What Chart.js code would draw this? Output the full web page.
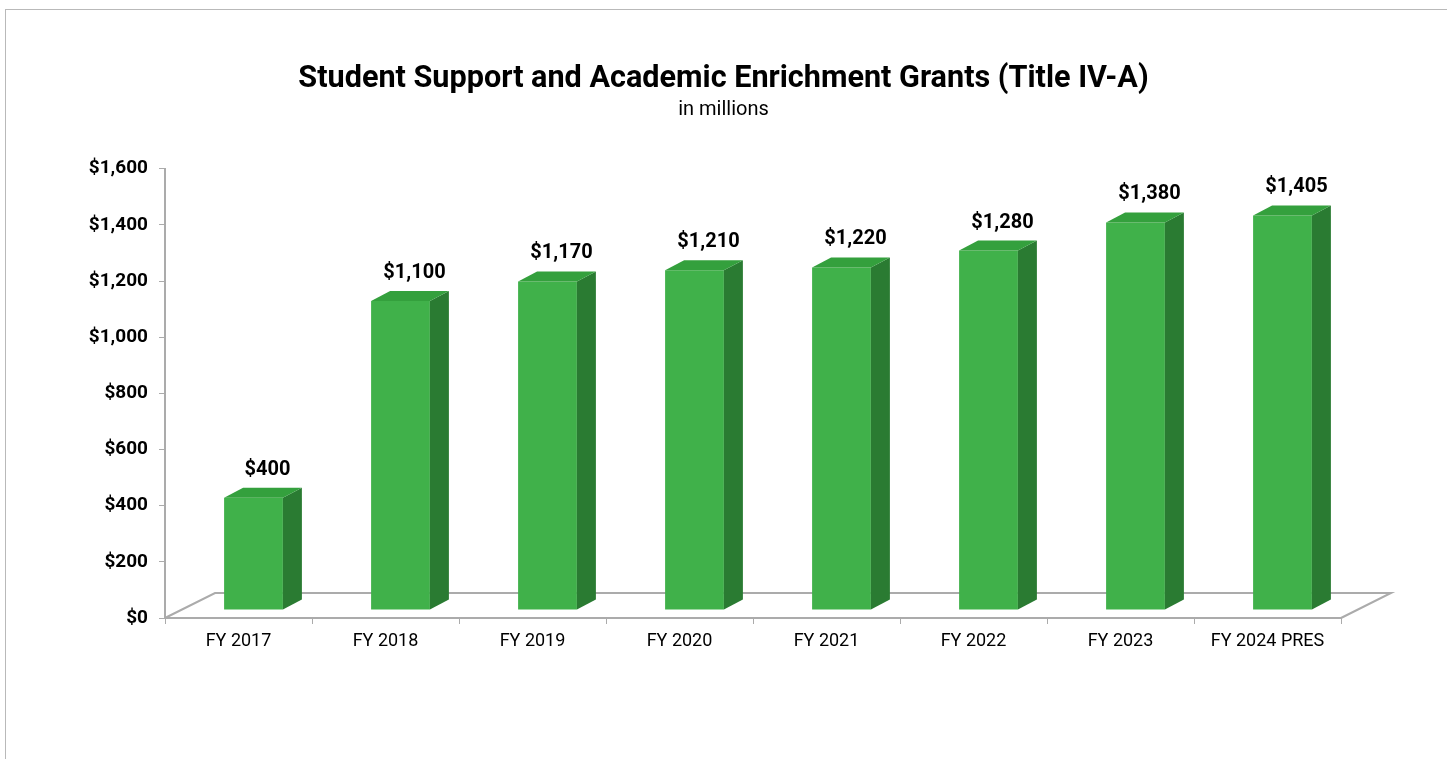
<!DOCTYPE html>
<html>
<head>
<meta charset="utf-8">
<script src="https://cdn.jsdelivr.net/npm/chart.js@4"></script>
<style>
  html, body { margin: 0; padding: 0; background: #fff; overflow: hidden; }
  #frame { position: absolute; left: 5px; top: 9px; width: 1600px; height: 900px; border: 1px solid #b9b9b9; }
  #wrap { position: absolute; left: 0; top: 0; width: 1447px; height: 759px; }
</style>
</head>
<body>
<div id="frame"></div>
<div id="wrap"><canvas id="grantsChart" width="1447" height="759"></canvas></div>
<script>
var years = ["FY 2017", "FY 2018", "FY 2019", "FY 2020", "FY 2021", "FY 2022", "FY 2023", "FY 2024 PRES"];
var funding = [400, 1100, 1170, 1210, 1220, 1280, 1380, 1405];
var yTicks = [0, 200, 400, 600, 800, 1000, 1200, 1400, 1600];

var COLORS = {
  front: "#40b14a",
  side: "#2a7b32",
  top: "#34a03d",
  axis: "#ababab"
};

// fake 3D: depth of the floor and of each bar
var FLOOR = {dx: 50, dy: -25};
var BAR_SHIFT = {dx: 15, dy: -8};
var DEPTH = {dx: 19, dy: -10};

function money(v) {
  return "$" + v.toLocaleString("en-US");
}

const threeD = {
  id: "threeD",
  beforeDatasetsDraw(chart) {
    const ctx = chart.ctx;
    const a = chart.chartArea;
    ctx.save();
    ctx.strokeStyle = COLORS.axis;
    ctx.lineWidth = 2;
    ctx.beginPath();
    ctx.moveTo(a.left, a.bottom);
    ctx.lineTo(a.left + FLOOR.dx, a.bottom + FLOOR.dy);
    ctx.lineTo(a.right + FLOOR.dx, a.bottom + FLOOR.dy);
    ctx.lineTo(a.right, a.bottom);
    ctx.stroke();
    ctx.restore();
    ctx.save();
    ctx.translate(BAR_SHIFT.dx, BAR_SHIFT.dy);
  },
  afterDatasetsDraw(chart) {
    const ctx = chart.ctx;
    const meta = chart.getDatasetMeta(0);
    meta.data.forEach(bar => {
      var l = bar.x - bar.width / 2;
      var r = bar.x + bar.width / 2;
      // side face
      ctx.fillStyle = COLORS.side;
      ctx.beginPath();
      ctx.moveTo(r, bar.y);
      ctx.lineTo(r + DEPTH.dx, bar.y + DEPTH.dy);
      ctx.lineTo(r + DEPTH.dx, bar.base + DEPTH.dy);
      ctx.lineTo(r, bar.base);
      ctx.closePath();
      ctx.fill();
      // top face
      ctx.fillStyle = COLORS.top;
      ctx.beginPath();
      ctx.moveTo(l, bar.y);
      ctx.lineTo(l + DEPTH.dx, bar.y + DEPTH.dy);
      ctx.lineTo(r + DEPTH.dx, bar.y + DEPTH.dy);
      ctx.lineTo(r, bar.y);
      ctx.closePath();
      ctx.fill();
    });
    ctx.restore();

    // value labels
    ctx.save();
    ctx.font = "bold 20px Roboto";
    ctx.fillStyle = "#000";
    ctx.textAlign = "center";
    ctx.textBaseline = "middle";
    meta.data.forEach((bar, i) => {
      ctx.fillText(money(funding[i]), bar.x + BAR_SHIFT.dx + 14, bar.y + BAR_SHIFT.dy - 28);
    });
    ctx.restore();
  }
};

const grantsChart = new Chart(document.getElementById("grantsChart"), {
  type: "bar",
  data: {
    labels: years,
    datasets: [
      {
        label: "Funding",
        data: funding,
        backgroundColor: COLORS.front,
        barPercentage: 0.4,
        categoryPercentage: 1,
        yAxisID: "y"
      }
    ]
  },
  options: {
    responsive: false,
    animation: false,
    layout: {padding: 0},
    plugins: {
      legend: {display: false},
      tooltip: {enabled: false},
      title: {
        display: true,
        text: "Student Support and Academic Enrichment Grants (Title IV-A)",
        color: "#000",
        font: {family: "Roboto", size: 30.6, weight: "bold"},
        padding: {top: 61, bottom: 0}
      },
      subtitle: {
        display: true,
        text: "in millions",
        color: "#000",
        font: {family: "Roboto", size: 20},
        padding: {top: 0, bottom: 47}
      }
    },
    scales: {
      x: {
        grid: {drawOnChartArea: false, tickLength: 6, color: COLORS.axis, offset: true},
        border: {color: COLORS.axis, width: 2},
        ticks: {color: "#000", font: {family: "Roboto", size: 18}, padding: 7},
        afterFit(scale) { scale.height = 141; }
      },
      y: {
        min: 0,
        max: 1600,
        afterBuildTicks(scale) { scale.ticks = yTicks.map(v => ({value: v})); },
        grid: {drawOnChartArea: false, tickLength: 6, color: COLORS.axis},
        border: {color: COLORS.axis, width: 2},
        ticks: {color: "#000", font: {family: "Roboto", size: 19, weight: "bold"}, padding: 11,
          callback: v => money(v)},
        afterFit(scale) { scale.width = 165; }
      },
      // empty right-hand axis, only keeps room for the floor depth
      spacer: {
        position: "right",
        grid: {display: false},
        border: {display: false},
        ticks: {display: false},
        afterFit(scale) { scale.width = 106; }
      }
    }
  },
  plugins: [threeD]
});
</script>
</body>
</html>
